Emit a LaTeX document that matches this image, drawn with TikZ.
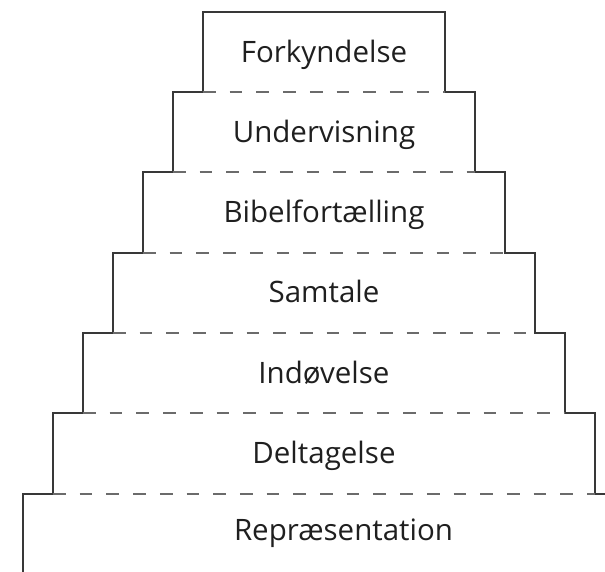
\documentclass[tikz,border=0pt]{standalone}
\usepackage{fontspec}
\setmainfont{Open Sans}
\begin{document}
\begin{tikzpicture}[x=1pt,y=-1pt,
  outline/.style={draw=black!78,line width=1.2pt},
  sep/.style={draw=black!58,line width=1.2pt,dash pattern=on 12.7pt off 14pt},
  lbl/.style={anchor=base,inner sep=0pt,font=\fontsize{29.5}{31}\selectfont,text=black!88}]
\clip (0,0) rectangle (605,571);
\useasboundingbox (0,0) rectangle (605,571);
% outline
\draw[outline] (23,575) -- (23,494) -- (53,494) -- (53,413) -- (83,413) -- (83,333)
  -- (113,333) -- (113,253) -- (143,253) -- (143,172) -- (173,172) -- (173,92)
  -- (203,92) -- (203,12) -- (445,12) -- (445,92) -- (475,92) -- (475,172)
  -- (505,172) -- (505,253) -- (535,253) -- (535,333) -- (565,333) -- (565,413)
  -- (595,413) -- (595,494) -- (630,494);
% separators
\draw[sep] (203,92) -- (445,92);
\draw[sep] (173,172) -- (475,172);
\draw[sep] (143,253) -- (505,253);
\draw[sep] (113,333) -- (535,333);
\draw[sep] (83,413) -- (565,413);
\draw[sep] (53,494) -- (595,494);
% labels
\node[lbl] (l1) at (324,62) {Forkyndelse};
\node[lbl] (l2) at (324,142) {Undervisning};
\node[lbl] (l3) at (324,222) {Bibelfortælling};
\node[lbl] (l4) at (324,302.5) {Samtale};
\node[lbl] (l5) at (324,383) {Indøvelse};
\node[lbl] (l6) at (324,463.5) {Deltagelse};
\node[lbl] (l7) at (343.5,540) {Repræsentation};
\end{tikzpicture}
\end{document}
